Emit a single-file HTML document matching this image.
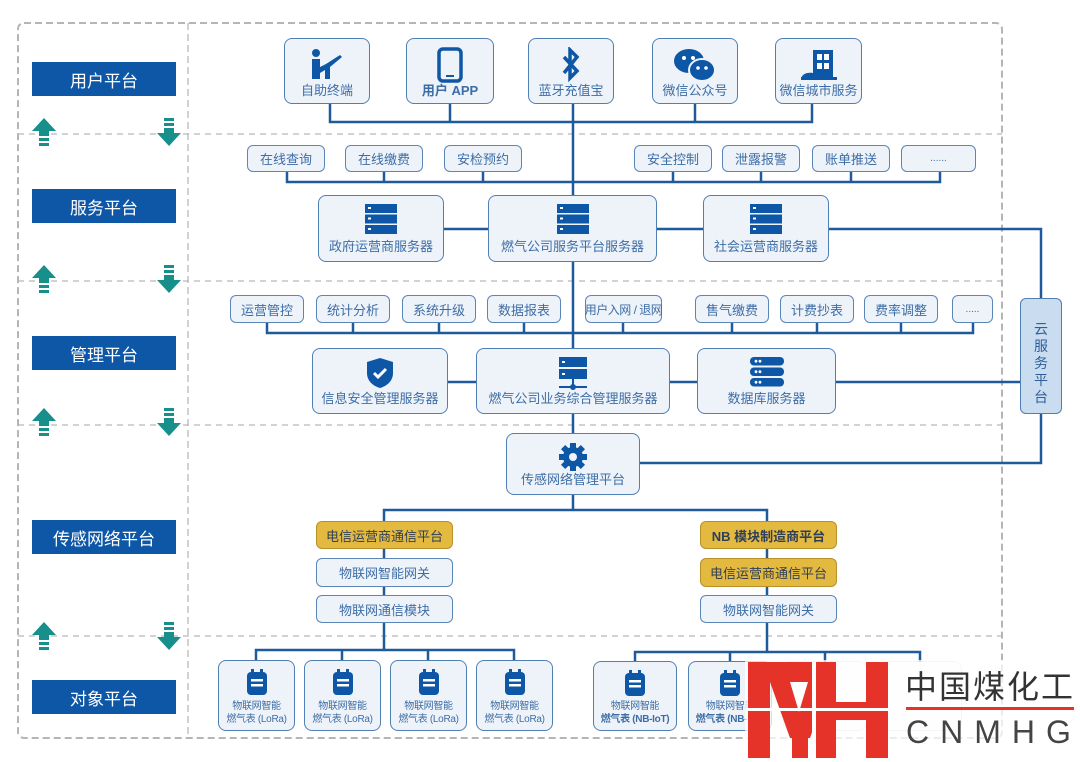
<!DOCTYPE html>
<html><head><meta charset="utf-8"><style>
*{margin:0;padding:0;box-sizing:border-box}
body{width:1080px;height:762px;background:#fff;position:relative;overflow:hidden;font-family:"Liberation Sans","Noto Sans CJK SC",sans-serif}
.b{position:absolute;background:#eef3f9;border:1.5px solid #4f7fb3;border-radius:8px;color:#3d6da6;text-align:center;font-size:13px}
.t{position:absolute;background:#eef3f9;border:1.5px solid #5a86b8;border-radius:6px;color:#3d6da6;text-align:center;font-size:13px;display:flex;align-items:center;justify-content:center;white-space:nowrap}
.y{background:#e3b940;border-color:#b8902a;color:#2f3f55}
.L{position:absolute;left:32px;width:144px;height:34px;background:#0d57a6;color:#fff;font-size:17px;display:flex;align-items:center;justify-content:center}
.lab{position:absolute;left:0;right:0;bottom:4px;font-size:13px;white-space:nowrap}
.ic{position:absolute;left:50%;transform:translateX(-50%);top:8px}
.d{font-size:10px;line-height:13px;letter-spacing:-0.3px}
</style></head><body>
<svg width="1080" height="762" style="position:absolute;left:0;top:0">
<g fill="none" stroke="#b5b5b5" stroke-width="2" stroke-dasharray="7,4">
<rect x="18" y="23" width="984" height="715" rx="6"/>
<line x1="188" y1="23" x2="188" y2="738" stroke-width="1.2"/>
</g>
<g stroke="#b8b8b8" stroke-width="1.3" stroke-dasharray="6,5">
<line x1="18" y1="134" x2="1002" y2="134"/><line x1="18" y1="281" x2="1002" y2="281"/>
<line x1="18" y1="425" x2="1002" y2="425"/><line x1="18" y1="636" x2="1002" y2="636"/>
</g>
<g fill="none" stroke="#1f5a9a" stroke-width="2.5">
<polyline points="330,104 330,122 812,122 812,104"/>
<line x1="450" y1="104" x2="450" y2="122"/><line x1="695" y1="104" x2="695" y2="122"/>
<line x1="573" y1="104" x2="573" y2="195"/>
<polyline points="287,172 287,182 940,182 940,172"/>
<line x1="384" y1="172" x2="384" y2="182"/><line x1="483" y1="172" x2="483" y2="182"/>
<line x1="673" y1="172" x2="673" y2="182"/><line x1="761" y1="172" x2="761" y2="182"/><line x1="851" y1="172" x2="851" y2="182"/>
<line x1="444" y1="229" x2="488" y2="229"/><line x1="657" y1="229" x2="703" y2="229"/>
<polyline points="829,229 1041,229 1041,298"/>
<line x1="573" y1="262" x2="573" y2="348"/>
<polyline points="267,323 267,333 973,333 973,323"/>
<line x1="353" y1="323" x2="353" y2="333"/><line x1="439" y1="323" x2="439" y2="333"/><line x1="524" y1="323" x2="524" y2="333"/>
<line x1="623" y1="323" x2="623" y2="333"/><line x1="732" y1="323" x2="732" y2="333"/><line x1="817" y1="323" x2="817" y2="333"/><line x1="901" y1="323" x2="901" y2="333"/>
<line x1="448" y1="382" x2="476" y2="382"/><line x1="670" y1="382" x2="697" y2="382"/>
<line x1="836" y1="382" x2="1020" y2="382"/>
<line x1="573" y1="414" x2="573" y2="433"/>
<polyline points="640,463 1041,463 1041,414"/>
<line x1="573" y1="495" x2="573" y2="510"/>
<polyline points="384,521 384,510 767,510 767,521"/>
<line x1="384" y1="549" x2="384" y2="558"/><line x1="384" y1="587" x2="384" y2="595"/><line x1="384" y1="623" x2="384" y2="650"/>
<line x1="767" y1="549" x2="767" y2="558"/><line x1="767" y1="587" x2="767" y2="595"/><line x1="767" y1="623" x2="767" y2="652"/>
<polyline points="256,660 256,650 514,650 514,660"/>
<line x1="342" y1="650" x2="342" y2="660"/><line x1="428" y1="650" x2="428" y2="660"/>
<polyline points="635,662 635,652 920,652 920,662"/>
<line x1="730" y1="652" x2="730" y2="662"/><line x1="825" y1="652" x2="825" y2="662"/>
</g>
<g fill="#17908c">
<g id="up"><polygon points="44,118 32,131 39,131 39,136 49,136 49,131 56,131"/><rect x="39" y="138" width="10" height="3"/><rect x="39" y="143" width="10" height="3"/></g>
<use href="#up" y="147"/><use href="#up" y="290"/><use href="#up" y="504"/>
<g id="dn"><rect x="164" y="118" width="10" height="3"/><rect x="164" y="123" width="10" height="3"/><polygon points="164,128 174,128 174,133 181,133 169,146 157,133 164,133"/></g>
<use href="#dn" y="147"/><use href="#dn" y="290"/><use href="#dn" y="504"/>
</g>
</svg>

<div class="L" style="top:62px">用户平台</div>
<div class="L" style="top:189px">服务平台</div>
<div class="L" style="top:336px">管理平台</div>
<div class="L" style="top:520px">传感网络平台</div>
<div class="L" style="top:680px">对象平台</div>

<div class="b" style="left:284px;top:38px;width:86px;height:66px"><svg class="ic" width="36" height="34" viewBox="0 0 36 34"><circle cx="7" cy="6" r="4" fill="#0d57a6"/><path d="M3 12h8v8l6-3 14-9 2 2-12 10v12h-5v-9l-5 3v6H3z" fill="#0d57a6"/></svg><div class="lab">自助终端</div></div>
<div class="b" style="left:406px;top:38px;width:88px;height:66px"><svg class="ic" width="26" height="36" viewBox="0 0 26 36"><rect x="2" y="2" width="22" height="32" rx="4" fill="none" stroke="#0d57a6" stroke-width="3.5"/><rect x="9" y="28" width="8" height="2" fill="#0d57a6"/></svg><div class="lab" style="font-weight:bold">用户 APP</div></div>
<div class="b" style="left:528px;top:38px;width:86px;height:66px"><svg class="ic" width="20" height="36" viewBox="0 0 20 36"><path d="M3 10l13 14-7 7V3l7 7L3 26" fill="none" stroke="#0d57a6" stroke-width="3.5"/></svg><div class="lab">蓝牙充值宝</div></div>
<div class="b" style="left:652px;top:38px;width:86px;height:66px"><svg class="ic" width="44" height="36" viewBox="0 0 44 36"><ellipse cx="16" cy="14" rx="15" ry="12" fill="#0d57a6"/><ellipse cx="29" cy="23" rx="13" ry="11" fill="#0d57a6" stroke="#eef3f9" stroke-width="2"/><circle cx="11" cy="11" r="2" fill="#fff"/><circle cx="20" cy="11" r="2" fill="#fff"/><circle cx="25" cy="21" r="1.8" fill="#fff"/><circle cx="33" cy="21" r="1.8" fill="#fff"/></svg><div class="lab">微信公众号</div></div>
<div class="b" style="left:775px;top:38px;width:87px;height:66px"><svg class="ic" width="40" height="36" viewBox="0 0 40 36"><rect x="14" y="3" width="20" height="30" fill="#0d57a6"/><rect x="18" y="7" width="5" height="6" fill="#fff"/><rect x="25" y="7" width="5" height="6" fill="#fff"/><rect x="18" y="16" width="5" height="6" fill="#fff"/><rect x="25" y="16" width="5" height="6" fill="#fff"/><path d="M2 33c0-6 6-8 12-7v7z" fill="#0d57a6"/><rect x="2" y="30" width="36" height="3" fill="#0d57a6"/></svg><div class="lab">微信城市服务</div></div>

<div class="t" style="left:247px;top:145px;width:78px;height:27px">在线查询</div>
<div class="t" style="left:345px;top:145px;width:78px;height:27px">在线缴费</div>
<div class="t" style="left:444px;top:145px;width:78px;height:27px">安检预约</div>
<div class="t" style="left:634px;top:145px;width:78px;height:27px">安全控制</div>
<div class="t" style="left:722px;top:145px;width:78px;height:27px">泄露报警</div>
<div class="t" style="left:812px;top:145px;width:78px;height:27px">账单推送</div>
<div class="t" style="left:901px;top:145px;width:75px;height:27px;font-size:10px">......</div>

<div class="b" style="left:318px;top:195px;width:126px;height:67px"><svg class="ic" width="32" height="30" viewBox="0 0 32 30"><g fill="#0d57a6"><rect y="0" width="32" height="9"/><rect y="10.5" width="32" height="9"/><rect y="21" width="32" height="9"/></g><g fill="#fff"><rect x="3" y="3" width="3" height="2"/><rect x="3" y="13.5" width="3" height="2"/><rect x="3" y="24" width="3" height="2"/></g></svg><div class="lab" style="bottom:6px">政府运营商服务器</div></div>
<div class="b" style="left:488px;top:195px;width:169px;height:67px"><svg class="ic" width="32" height="30" viewBox="0 0 32 30"><g fill="#0d57a6"><rect y="0" width="32" height="9"/><rect y="10.5" width="32" height="9"/><rect y="21" width="32" height="9"/></g><g fill="#fff"><rect x="3" y="3" width="3" height="2"/><rect x="3" y="13.5" width="3" height="2"/><rect x="3" y="24" width="3" height="2"/></g></svg><div class="lab" style="bottom:6px">燃气公司服务平台服务器</div></div>
<div class="b" style="left:703px;top:195px;width:126px;height:67px"><svg class="ic" width="32" height="30" viewBox="0 0 32 30"><g fill="#0d57a6"><rect y="0" width="32" height="9"/><rect y="10.5" width="32" height="9"/><rect y="21" width="32" height="9"/></g><g fill="#fff"><rect x="3" y="3" width="3" height="2"/><rect x="3" y="13.5" width="3" height="2"/><rect x="3" y="24" width="3" height="2"/></g></svg><div class="lab" style="bottom:6px">社会运营商服务器</div></div>

<div class="t" style="left:230px;top:295px;width:74px;height:28px">运营管控</div>
<div class="t" style="left:316px;top:295px;width:74px;height:28px">统计分析</div>
<div class="t" style="left:402px;top:295px;width:74px;height:28px">系统升级</div>
<div class="t" style="left:487px;top:295px;width:74px;height:28px">数据报表</div>
<div class="t" style="left:585px;top:295px;width:77px;height:28px;font-size:12px;letter-spacing:-0.5px">用户入网 / 退网</div>
<div class="t" style="left:695px;top:295px;width:74px;height:28px">售气缴费</div>
<div class="t" style="left:780px;top:295px;width:74px;height:28px">计费抄表</div>
<div class="t" style="left:864px;top:295px;width:74px;height:28px">费率调整</div>
<div class="t" style="left:952px;top:295px;width:41px;height:28px;font-size:10px">.....</div>

<div class="b" style="left:312px;top:348px;width:136px;height:66px"><svg class="ic" width="28" height="32" viewBox="0 0 28 32"><path d="M14 1L27 5v11c0 8-6 13-13 15C7 29 1 24 1 16V5z" fill="#0d57a6"/><path d="M8 16l4 4 8-8" fill="none" stroke="#fff" stroke-width="3"/></svg><div class="lab" style="bottom:6px">信息安全管理服务器</div></div>
<div class="b" style="left:476px;top:348px;width:194px;height:66px"><svg class="ic" width="32" height="34" viewBox="0 0 32 34"><g fill="#0d57a6"><rect x="2" y="0" width="28" height="10"/><rect x="2" y="12" width="28" height="10"/><rect x="15" y="22" width="2" height="8"/><rect x="2" y="29" width="28" height="2"/><circle cx="16" cy="30" r="3"/></g><g fill="#fff"><rect x="5" y="4" width="3" height="2"/><rect x="5" y="16" width="3" height="2"/></g></svg><div class="lab" style="bottom:6px">燃气公司业务综合管理服务器</div></div>
<div class="b" style="left:697px;top:348px;width:139px;height:66px"><svg class="ic" width="34" height="30" viewBox="0 0 34 30"><g fill="#0d57a6"><rect y="0" width="34" height="8.5" rx="4"/><rect y="10.5" width="34" height="8.5" rx="4"/><rect y="21" width="34" height="8.5" rx="4"/></g><g fill="#fff"><circle cx="6" cy="4.2" r="1.4"/><circle cx="10" cy="4.2" r="1.4"/><circle cx="6" cy="14.7" r="1.4"/><circle cx="10" cy="14.7" r="1.4"/><circle cx="6" cy="25.2" r="1.4"/><circle cx="10" cy="25.2" r="1.4"/></g></svg><div class="lab" style="bottom:6px">数据库服务器</div></div>

<div class="b" style="left:1020px;top:298px;width:42px;height:116px;background:#c9dcf0;border-radius:6px;font-size:14px;line-height:17px;padding-top:22px;color:#2f5f99">云<br>服<br>务<br>平<br>台</div>

<div class="b" style="left:506px;top:433px;width:134px;height:62px"><svg class="ic" width="30" height="30" viewBox="0 0 30 30"><g fill="#0d57a6" transform="translate(15 15)"><circle r="10"/><g id="tt"><rect x="-3" y="-14" width="6" height="7"/></g><use href="#tt" transform="rotate(45)"/><use href="#tt" transform="rotate(90)"/><use href="#tt" transform="rotate(135)"/><use href="#tt" transform="rotate(180)"/><use href="#tt" transform="rotate(225)"/><use href="#tt" transform="rotate(270)"/><use href="#tt" transform="rotate(315)"/></g><circle cx="15" cy="15" r="4" fill="#eef3f9"/></svg><div class="lab" style="bottom:6px">传感网络管理平台</div></div>

<div class="t y" style="left:316px;top:521px;width:137px;height:28px">电信运营商通信平台</div>
<div class="t" style="left:316px;top:558px;width:137px;height:29px">物联网智能网关</div>
<div class="t" style="left:316px;top:595px;width:137px;height:28px">物联网通信模块</div>
<div class="t y" style="left:700px;top:521px;width:137px;height:28px;font-weight:bold">NB 模块制造商平台</div>
<div class="t y" style="left:700px;top:558px;width:137px;height:29px">电信运营商通信平台</div>
<div class="t" style="left:700px;top:595px;width:137px;height:28px">物联网智能网关</div>

<div class="b d" style="left:218px;top:660px;width:77px;height:71px"><svg class="ic" width="20" height="26" viewBox="0 0 20 26"><rect x="4" y="0" width="3" height="4" fill="#0d57a6"/><rect x="13" y="0" width="3" height="4" fill="#0d57a6"/><rect x="0" y="3" width="20" height="23" rx="4" fill="#0d57a6"/><rect x="4" y="10" width="12" height="2.5" fill="#fff"/><rect x="4" y="15" width="12" height="2.5" fill="#fff"/></svg><div class="lab" style="bottom:4px;font-size:10px">物联网智能<br>燃气表 (LoRa)</div></div>
<div class="b d" style="left:304px;top:660px;width:77px;height:71px"><svg class="ic" width="20" height="26" viewBox="0 0 20 26"><rect x="4" y="0" width="3" height="4" fill="#0d57a6"/><rect x="13" y="0" width="3" height="4" fill="#0d57a6"/><rect x="0" y="3" width="20" height="23" rx="4" fill="#0d57a6"/><rect x="4" y="10" width="12" height="2.5" fill="#fff"/><rect x="4" y="15" width="12" height="2.5" fill="#fff"/></svg><div class="lab" style="bottom:4px;font-size:10px">物联网智能<br>燃气表 (LoRa)</div></div>
<div class="b d" style="left:390px;top:660px;width:77px;height:71px"><svg class="ic" width="20" height="26" viewBox="0 0 20 26"><rect x="4" y="0" width="3" height="4" fill="#0d57a6"/><rect x="13" y="0" width="3" height="4" fill="#0d57a6"/><rect x="0" y="3" width="20" height="23" rx="4" fill="#0d57a6"/><rect x="4" y="10" width="12" height="2.5" fill="#fff"/><rect x="4" y="15" width="12" height="2.5" fill="#fff"/></svg><div class="lab" style="bottom:4px;font-size:10px">物联网智能<br>燃气表 (LoRa)</div></div>
<div class="b d" style="left:476px;top:660px;width:77px;height:71px"><svg class="ic" width="20" height="26" viewBox="0 0 20 26"><rect x="4" y="0" width="3" height="4" fill="#0d57a6"/><rect x="13" y="0" width="3" height="4" fill="#0d57a6"/><rect x="0" y="3" width="20" height="23" rx="4" fill="#0d57a6"/><rect x="4" y="10" width="12" height="2.5" fill="#fff"/><rect x="4" y="15" width="12" height="2.5" fill="#fff"/></svg><div class="lab" style="bottom:4px;font-size:10px">物联网智能<br>燃气表 (LoRa)</div></div>
<div class="b d" style="left:593px;top:661px;width:84px;height:70px"><svg class="ic" width="20" height="26" viewBox="0 0 20 26"><rect x="4" y="0" width="3" height="4" fill="#0d57a6"/><rect x="13" y="0" width="3" height="4" fill="#0d57a6"/><rect x="0" y="3" width="20" height="23" rx="4" fill="#0d57a6"/><rect x="4" y="10" width="12" height="2.5" fill="#fff"/><rect x="4" y="15" width="12" height="2.5" fill="#fff"/></svg><div class="lab" style="bottom:4px;font-size:10px">物联网智能<br><b>燃气表 (NB-IoT)</b></div></div>
<div class="b d" style="left:688px;top:661px;width:84px;height:70px;overflow:hidden"><svg class="ic" width="20" height="26" viewBox="0 0 20 26"><rect x="4" y="0" width="3" height="4" fill="#0d57a6"/><rect x="13" y="0" width="3" height="4" fill="#0d57a6"/><rect x="0" y="3" width="20" height="23" rx="4" fill="#0d57a6"/><rect x="4" y="10" width="12" height="2.5" fill="#fff"/><rect x="4" y="15" width="12" height="2.5" fill="#fff"/></svg><div class="lab" style="bottom:4px;font-size:10px">物联网智能<br><b>燃气表 (NB-IoT)</b></div></div>
<div class="b" style="left:783px;top:661px;width:84px;height:70px;opacity:.3"></div>
<div class="b" style="left:878px;top:661px;width:84px;height:70px;opacity:.3"></div>

<div style="position:absolute;left:745px;top:660px;width:335px;height:102px;background:rgba(255,255,255,0.75)"></div>
<svg width="150" height="100" style="position:absolute;left:746px;top:660px" viewBox="0 0 150 100">
<g fill="#e5332a">
<rect x="2" y="2" width="22" height="96"/>
<rect x="2" y="2" width="82" height="20"/>
<polygon points="24,22 44,22 53,52 62,22 84,22 64,78 44,78"/>
<rect x="46" y="58" width="16" height="40"/>
<rect x="68" y="2" width="22" height="96"/>
<rect x="120" y="2" width="22" height="96"/>
<rect x="90" y="42" width="30" height="18"/>
<rect x="66" y="2" width="4" height="96" fill="#fff"/>
</g>
<rect x="0" y="48" width="150" height="3" fill="#fff"/>
</svg>
<div style="position:absolute;left:905px;top:665px;font-size:32px;color:#333;letter-spacing:2px;font-family:'Noto Sans CJK SC',sans-serif;line-height:40px;white-space:nowrap">中国煤化工</div>
<div style="position:absolute;left:906px;top:707px;width:168px;height:3px;background:#e5332a"></div>
<div style="position:absolute;left:906px;top:713px;font-size:32px;color:#444;letter-spacing:11px;line-height:38px;white-space:nowrap">CNMHG</div>
</body></html>
